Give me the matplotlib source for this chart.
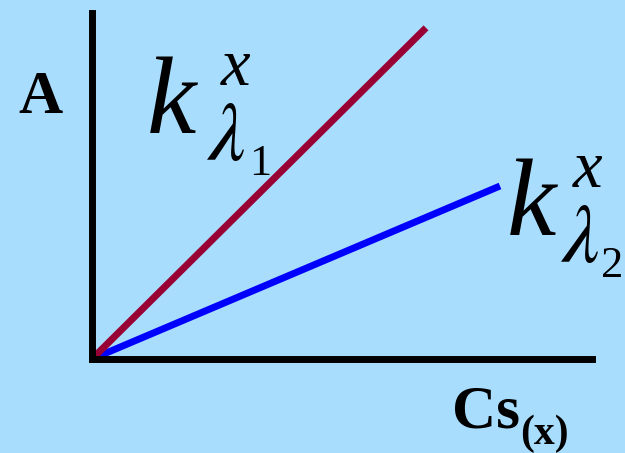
import matplotlib.pyplot as plt

plt.rcParams["mathtext.fontset"] = "stix"

# calibration lines: absorbance vs concentration at two wavelengths
conc_l1 = [0, 6.68]
absorb_l1 = [0, 6.70]
conc_l2 = [0, 8.16]
absorb_l2 = [0, 3.50]

W, H = 625, 453
bg = "#a9ddfe"

fig = plt.figure(figsize=(W / 100, H / 100), dpi=100)
fig.patch.set_facecolor(bg)


def px(x, y):
    # pixel position (from top-left) -> figure fraction
    return x / W, 1 - y / H


ax = fig.add_axes([92 / W, (H - 359) / H, 500 / W, 346 / H])
ax.set_facecolor(bg)
ax.set_xlim(0, 10)
ax.set_ylim(0, 7)
for s in ["top", "right"]:
    ax.spines[s].set_visible(False)
for s in ["left", "bottom"]:
    ax.spines[s].set_linewidth(5)
    ax.spines[s].set_color("black")
ax.set_xticks([])
ax.set_yticks([])

ax.plot(conc_l2, absorb_l2, color="#0000ff", lw=5, solid_capstyle="butt", clip_on=False)
ax.plot(conc_l1, absorb_l1, color="#990033", lw=5, solid_capstyle="butt", clip_on=False)

serif = "Liberation Serif"

# axis titles
fig.text(*px(18, 113), "A", family=serif, weight="bold", fontsize=44, ha="left", va="baseline")
fig.text(*px(452, 428), "Cs", family=serif, weight="bold", fontsize=44, ha="left", va="baseline")
fig.text(*px(520, 444), "(x)", family=serif, weight="bold", fontsize=30, ha="left", va="baseline")


def k_label(k_pos, x_pos, lam_pos, idx_pos, idx):
    fig.text(*px(*k_pos), "k", family=serif, style="italic", fontsize=80, ha="left", va="baseline")
    fig.text(*px(*x_pos), "x", family=serif, style="italic", fontsize=48, ha="left", va="baseline")
    fig.text(*px(*lam_pos), r"$\lambda$", fontsize=60, ha="left", va="baseline")
    fig.text(*px(*idx_pos), idx, family=serif, fontsize=32, ha="left", va="baseline")


k_label((147, 133), (221, 85), (206, 160), (249, 175), "1")
k_label((507, 235), (573, 187), (560, 262), (601, 277), "2")

fig.savefig("out.png", dpi=100, facecolor=bg)
